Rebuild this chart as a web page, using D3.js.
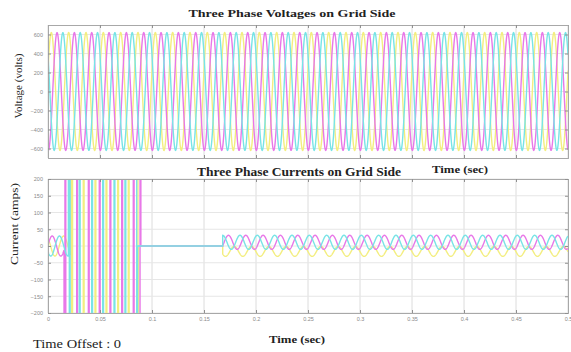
<!DOCTYPE html>
<html>
<head>
<meta charset="utf-8">
<script src="https://cdn.jsdelivr.net/npm/d3@7"></script>
<style>
  body { margin: 0; background: #fff; }
  svg { display: block; }
  .tick text { font-family: "Liberation Sans", sans-serif; font-size: 5.5px; fill: #8a8a8a; }
  .lbl { font-family: "Liberation Serif", "Times New Roman", serif; fill: #222; }
</style>
</head>
<body>
<svg id="chart"></svg>
<script>
'use strict';

// ---- data ----
var phaseNames = ["a", "b", "c"];             // drawn yellow, magenta, cyan
var gridFreq = 60;                              // Hz
var timeTicks = [0, 0.05, 0.1, 0.15, 0.2, 0.25, 0.3, 0.35, 0.4, 0.45, 0.5];
var timeTickLabels = ["0", "0.05", "0.1", "0.15", "0.2", "0.25", "0.3", "0.35", "0.4", "0.45", "0.5"];
var voltTicks = [-600, -400, -200, 0, 200, 400, 600];
var currTicks = [-200, -150, -100, -50, 0, 50, 100, 150, 200];

// voltages: peak value and time of first crest, per phase
var voltPeak = [620, 620, 620];
var voltFirstCrest = [0.0032, 0.0087, 0.0143];

// currents before the fault: peak and first crest
var currPrePeak = [30, 30, 30];
var currPreCrest = [0.0150, 0.0040, 0.0110];

// saturated spikes (times of the full-scale pulses), per phase
var spikeTimes = [
  [0.0228, 0.0339, 0.0452, 0.0558, 0.0670, 0.0772, 0.0865],
  [0.0163, 0.0276, 0.0388, 0.0493, 0.0596, 0.0709, 0.0820, 0.0885],
  [0.0205, 0.0301, 0.0420, 0.0526, 0.0635, 0.0740, 0.0853]
];
var spikeSign = [-1, 1, -1];
var spikeWidth = 0.0008;

// currents after reconnection
var reconnectTime = 0.168;
var currPostPeak = [15, 21, 21];
var currPostOffset = [-16, 11, 11];
var currPostCrest = [0.1790, 0.1735, 0.1790 + 0.0056];

// ---- styles ----
var colors = ["#f3ee80", "#e878e8", "#78e4e6"];
var W = 571, H = 352;
var left = 48, right = 568;
var topBox = { y0: 25, y1: 158 };
var botBox = { y0: 179, y1: 313 };

var svg = d3.select("#chart").attr("width", W).attr("height", H);

var x = d3.scaleLinear().domain([0, 0.5]).range([left, right]);
var yV = d3.scaleLinear().domain([-700, 700]).range([topBox.y1, topBox.y0]);
var yI = d3.scaleLinear().domain([-200, 200]).range([botBox.y1, botBox.y0]);

var period = 1 / gridFreq;
var dt = 0.0002;

function wave(peak, crest, offset, t0, t1) {
  var pts = [];
  for (var t = t0; t <= t1 + 1e-9; t += dt) {
    pts.push([t, offset + peak * Math.cos(2 * Math.PI * (t - crest) / period)]);
  }
  return pts;
}

var voltSeries = phaseNames.map(function(p, i) {
  return wave(voltPeak[i], voltFirstCrest[i], 0, 0, 0.5);
});

var currSeries = phaseNames.map(function(p, i) {
  var st = spikeTimes[i], s = spikeSign[i];
  var pts = wave(currPrePeak[i], currPreCrest[i], 0, 0, st[0] - spikeWidth);
  pts.push([st[0] - spikeWidth, -s * 1000]);
  st.forEach(function(t, k) {
    var after = (k === st.length - 1) ? 0 : -s * 1000;
    pts.push([t, -s * 1000], [t, s * 1000], [t + spikeWidth, s * 1000], [t + spikeWidth, after]);
  });
  pts.push([reconnectTime, 0]);
  return pts.concat(wave(currPostPeak[i], currPostCrest[i], currPostOffset[i], reconnectTime, 0.5));
});

function panel(box, y, ticks, series, showXLabels, id) {
  var g = svg.append("g");

  g.append("defs").append("clipPath").attr("id", id)
    .append("rect").attr("x", left).attr("y", box.y0)
    .attr("width", right - left).attr("height", box.y1 - box.y0);

  // grid
  g.append("g").selectAll("line").data(timeTicks).join("line")
    .attr("x1", function(d) { return x(d); }).attr("x2", function(d) { return x(d); })
    .attr("y1", box.y0).attr("y2", box.y1)
    .style("stroke", "#dcdcdc").style("stroke-width", 1);
  g.append("g").selectAll("line").data(ticks).join("line")
    .attr("x1", left).attr("x2", right)
    .attr("y1", function(d) { return y(d); }).attr("y2", function(d) { return y(d); })
    .style("stroke", "#e6e6e6").style("stroke-width", 1);

  // traces
  var line = d3.line()
    .x(function(d) { return x(d[0]); })
    .y(function(d) { return y(d[1]); });

  g.append("g").attr("clip-path", "url(#" + id + ")")
    .selectAll("path").data(series).join("path")
    .attr("d", line)
    .style("fill", "none")
    .style("stroke", function(d, i) { return colors[i]; })
    .style("stroke-width", 1.4);

  // axes
  var ax = d3.axisBottom(x).tickValues(timeTicks).tickSize(-3).tickPadding(4)
    .tickFormat(function(d, i) { return showXLabels ? timeTickLabels[i] : ""; });
  var axb = g.append("g").attr("transform", "translate(0," + box.y1 + ")").call(ax);
  var axt = g.append("g").attr("transform", "translate(0," + box.y0 + ")")
    .call(d3.axisTop(x).tickValues(timeTicks).tickSize(-3).tickFormat(""));
  var ayl = g.append("g").attr("transform", "translate(" + left + ",0)")
    .call(d3.axisLeft(y).tickValues(ticks).tickSize(-3).tickPadding(5));
  var ayr = g.append("g").attr("transform", "translate(" + right + ",0)")
    .call(d3.axisRight(y).tickValues(ticks).tickSize(-3).tickFormat(""));

  [axb, axt, ayl, ayr].forEach(function(a) {
    a.select(".domain").style("stroke", "#a8a8a8");
    a.selectAll(".tick line").style("stroke", "#909090");
  });
}

panel(topBox, yV, voltTicks, voltSeries, false, "clipV");
panel(botBox, yI, currTicks, currSeries, true, "clipI");

// texts
function label(txt, xp, yp, size, weight, len, rot) {
  var t = svg.append("text").attr("class", "lbl")
    .attr("text-anchor", "middle")
    .style("font-size", size + "px").style("font-weight", weight)
    .attr("textLength", len).attr("lengthAdjust", "spacingAndGlyphs")
    .text(txt);
  if (rot) t.attr("transform", "translate(" + xp + "," + yp + ") rotate(-90)");
  else t.attr("x", xp).attr("y", yp);
}

label("Three Phase Voltages on Grid Side", 292, 17, 11, "bold", 207);
label("Three Phase Currents on Grid Side", 299, 176, 11.5, "bold", 204);
label("Time (sec)", 460, 173, 11, "bold", 56);
label("Time (sec)", 297, 343, 11, "bold", 56);
label("Voltage (volts)", 22, 86, 11, "normal", 65, true);
label("Current (amps)", 18, 224, 10.5, "normal", 82, true);
label("Time Offset : 0", 77, 348, 12, "normal", 88);
</script>
</body>
</html>
